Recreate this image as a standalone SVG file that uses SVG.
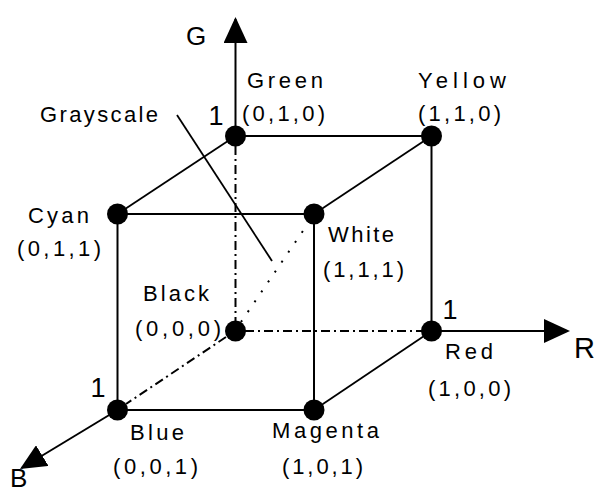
<svg xmlns="http://www.w3.org/2000/svg" width="597" height="494" viewBox="0 0 597 494">
<style>
text{font-family:"Liberation Sans",Arial,sans-serif;fill:#000}
.lbl{font-size:22px}
.one{font-size:27px;text-anchor:middle}
.ax{font-size:29px}
.edge{stroke:#000;stroke-width:2;fill:none}
.diag{stroke:#000;stroke-width:1.8;fill:none}
.hid{stroke:#000;stroke-width:2;fill:none;stroke-dasharray:9 4 2 4}
.gray{stroke:#000;stroke-width:2;fill:none;stroke-dasharray:2 10}
.axis{stroke:#000;stroke-width:2;fill:none;marker-end:url(#arr)}
.dot{fill:#000}
</style>
<defs>
<marker id="arr" markerUnits="userSpaceOnUse" markerWidth="26" markerHeight="24" refX="24" refY="12" orient="auto">
<path d="M0,0 L26,12 L0,24 z" fill="#000"/>
</marker>
</defs>
<rect width="597" height="494" fill="#fff"/>
<g id="connectors">
<line class="axis" x1="235.5" y1="136" x2="235.5" y2="19"/>
<line class="axis" x1="431.5" y1="331" x2="568" y2="331"/>
<line class="axis" x1="117.5" y1="410" x2="21.7" y2="468"/>
<line class="edge" x1="235.5" y1="136" x2="431.5" y2="136"/>
<line class="edge" x1="117.5" y1="214" x2="314" y2="214"/>
<line class="edge" x1="117.5" y1="410" x2="314" y2="410"/>
<line class="edge" x1="117.5" y1="214" x2="117.5" y2="410"/>
<line class="edge" x1="314" y1="214" x2="314" y2="410"/>
<line class="edge" x1="431.5" y1="136" x2="431.5" y2="331"/>
<line class="diag" x1="235.5" y1="136" x2="117.5" y2="214"/>
<line class="diag" x1="431.5" y1="136" x2="314" y2="214"/>
<line class="diag" x1="431.5" y1="331" x2="314" y2="410"/>
<line class="hid" x1="235.5" y1="146" x2="235.5" y2="321"/>
<line class="hid" x1="245" y1="331" x2="422" y2="331"/>
<line class="hid" x1="226" y1="337" x2="126" y2="404"/>
<line class="gray" x1="241" y1="322" x2="309" y2="222"/>
<line class="diag" x1="177" y1="115" x2="272" y2="261"/>
</g>
<g id="axis-labels">
<text class="ax" x="186" y="45" style="font-size:26px">G</text>
<text class="ax" x="574" y="358">R</text>
<text class="ax" x="10" y="487" style="font-size:26px">B</text>
<text class="one" x="216" y="125">1</text>
<text class="one" x="450" y="319">1</text>
<text class="one" x="98" y="397">1</text>
</g>
<g id="grayscale">
<text class="lbl" x="40" y="122" textLength="118" lengthAdjust="spacing">Grayscale</text>
</g>
<g id="node-green">
<circle class="dot" cx="235.5" cy="136" r="10.5"/>
<text class="lbl" x="247" y="88" textLength="76" lengthAdjust="spacing">Green</text>
<text class="lbl" x="242" y="121" textLength="83" lengthAdjust="spacing">(0,1,0)</text>
</g>
<g id="node-yellow">
<circle class="dot" cx="431.5" cy="136" r="10.5"/>
<text class="lbl" x="418" y="88" textLength="88" lengthAdjust="spacing">Yellow</text>
<text class="lbl" x="418" y="121" textLength="83" lengthAdjust="spacing">(1,1,0)</text>
</g>
<g id="node-cyan">
<circle class="dot" cx="117.5" cy="214" r="10.5"/>
<text class="lbl" x="28" y="223" textLength="61" lengthAdjust="spacing">Cyan</text>
<text class="lbl" x="17" y="256" textLength="84" lengthAdjust="spacing">(0,1,1)</text>
</g>
<g id="node-white">
<circle class="dot" cx="314" cy="214" r="10.5"/>
<text class="lbl" x="328" y="242" textLength="66" lengthAdjust="spacing">White</text>
<text class="lbl" x="323" y="277" textLength="81" lengthAdjust="spacing">(1,1,1)</text>
</g>
<g id="node-black">
<circle class="dot" cx="235.5" cy="331" r="10.5"/>
<text class="lbl" x="143" y="301" textLength="66" lengthAdjust="spacing">Black</text>
<text class="lbl" x="135" y="336" textLength="86" lengthAdjust="spacing">(0,0,0)</text>
</g>
<g id="node-red">
<circle class="dot" cx="431.5" cy="331" r="10.5"/>
<text class="lbl" x="445" y="359" textLength="48" lengthAdjust="spacing">Red</text>
<text class="lbl" x="428" y="396" textLength="83" lengthAdjust="spacing">(1,0,0)</text>
</g>
<g id="node-blue">
<circle class="dot" cx="117.5" cy="410" r="10.5"/>
<text class="lbl" x="130" y="440" textLength="54" lengthAdjust="spacing">Blue</text>
<text class="lbl" x="113" y="474" textLength="85" lengthAdjust="spacing">(0,0,1)</text>
</g>
<g id="node-magenta">
<circle class="dot" cx="314" cy="410" r="10.5"/>
<text class="lbl" x="272" y="438" textLength="107" lengthAdjust="spacing">Magenta</text>
<text class="lbl" x="282" y="474" textLength="81" lengthAdjust="spacing">(1,0,1)</text>
</g>
</svg>
